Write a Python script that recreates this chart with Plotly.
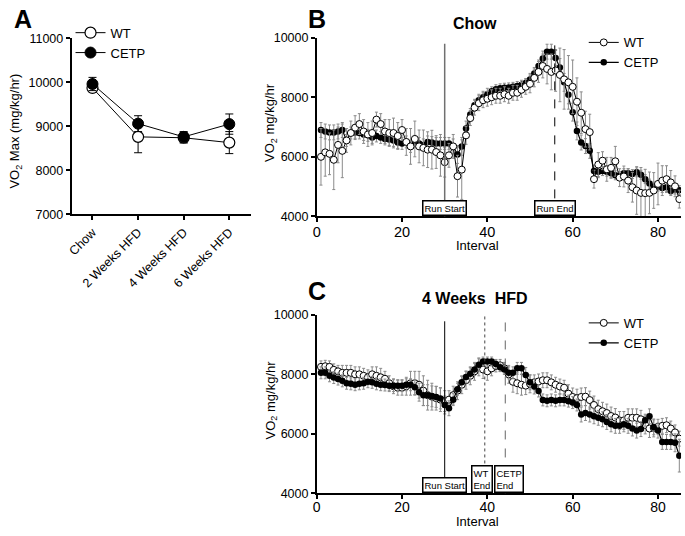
import plotly.graph_objects as go

# ---------------- Panel A data ----------------
a_categories = ["Chow", "2 Weeks HFD", "4 Weeks HFD", "6 Weeks HFD"]
a_wt = [9870, 8760, 8740, 8630]
a_wt_err = [60, 360, 120, 250]
a_cetp = [9960, 9060, 8760, 9050]
a_cetp_err = [150, 180, 120, 230]

# ---------------- Panel B (Chow) data ----------------
interval = list(range(1, 86))
b_wt = [6000, 6150, 6100, 5900, 6400, 6200, 6550, 6800, 6980, 7100,
        6850, 6750, 6800, 7250, 7100, 6850, 6800, 6800, 6700, 6900,
        6500, 6350, 6600, 6350, 6300, 6240, 6240, 6160, 6050, 5820,
        6050, 6350, 5350, 5570, 6720, 7300, 7650, 7800, 7900, 7950,
        8000, 8050, 8050, 8100, 8050, 8150, 8150, 8250, 8350, 8450,
        8650, 8850, 9050, 8950, 8850, 8900, 8750, 8600, 8500, 8350,
        7850, 7480, 6930, 6830, 5250, 5740, 5870, 5580, 5630, 5850,
        5300, 5340, 5200, 4980, 4870, 4790, 4780, 4790, 4870, 5090,
        5200, 5250, 5140, 5010, 4580]
b_wt_err = [950, 800, 700, 1000, 600, 900, 400, 400, 400, 350,
            400, 400, 400, 250, 350, 400, 450, 500, 450, 350,
            450, 600, 600, 550, 600, 600, 650, 550, 700, 500,
            400, 400, 700, 1000, 300, 250, 250, 250, 250, 250,
            250, 250, 250, 250, 250, 250, 250, 250, 250, 300,
            300, 350, 400, 500, 600, 700, 900, 1000, 900, 900,
            800, 700, 600, 600, 300, 400, 300, 400, 350, 500,
            300, 350, 400, 500, 800, 850, 800, 700, 600, 700,
            500, 450, 400, 350, 300]
b_cetp = [6900, 6850, 6820, 6820, 6850, 6900, 6550, 6800, 6820, 6800,
          6750, 6720, 6650, 6700, 6650, 6600, 6580, 6550, 6480, 6450,
          6500, 6350, 6520, 6450, 6400, 6500, 6480, 6450, 6450, 6450,
          6450, 6350, 6080, 6350, 6950, 7420, 7730, 7900, 8000, 8100,
          8200, 8270, 8300, 8320, 8330, 8350, 8380, 8420, 8480, 8600,
          8800, 9050, 9300, 9530, 9530, 9320, 9000, 8500, 8080, 7500,
          6870, 6480, 6360, 6200, 5520, 5500, 5520, 5500, 5450, 5380,
          5350, 5450, 5450, 5420, 5480, 5400, 5250, 5100, 5000, 5000,
          4950, 4980, 4850, 4900, 4880]
b_cetp_err = [250, 250, 250, 250, 250, 250, 200, 200, 200, 200,
              200, 200, 200, 200, 200, 200, 200, 200, 200, 200,
              200, 200, 200, 200, 200, 200, 200, 200, 200, 200,
              200, 250, 300, 300, 250, 200, 200, 200, 200, 200,
              150, 150, 150, 150, 150, 150, 150, 150, 150, 200,
              200, 200, 250, 250, 250, 250, 300, 300, 300, 300,
              300, 250, 250, 250, 200, 200, 150, 150, 150, 150,
              150, 150, 150, 150, 150, 150, 150, 150, 150, 150,
              150, 150, 150, 150, 150]

# ---------------- Panel C (4 Weeks HFD) data ----------------
c_wt = [8250, 8270, 8250, 8150, 8100, 8050, 8050, 8050, 8000, 8000,
        7950, 7900, 8000, 7950, 7900, 7850, 7700, 7600, 7550, 7550,
        7600, 7700, 7700, 7650, 7450, 7300, 7250, 7200, 7150, 7100,
        7150, 7300, 7450, 7650, 7800, 7950, 8100, 8250, 8160, 8100,
        8200, 8280, 8300, 8200, 8000, 7750, 7700, 7650, 7620, 7680,
        7730, 7760, 7800, 7800, 7730, 7650, 7590, 7550, 7350, 7240,
        7200, 7240, 7250, 7135, 6970, 6830, 6760, 6700, 6600, 6550,
        6450, 6450, 6540, 6540, 6540, 6490, 6300, 6180, 6200, 6240,
        6270, 6290, 6180, 6050, 5840]
c_wt_err = [200, 200, 200, 200, 200, 250, 250, 250, 250, 250,
            250, 250, 250, 300, 300, 250, 250, 250, 250, 250,
            300, 400, 400, 450, 500, 500, 450, 400, 400, 350,
            300, 300, 300, 300, 300, 300, 300, 300, 300, 300,
            250, 200, 200, 200, 300, 350, 350, 350, 300, 300,
            250, 250, 250, 250, 250, 250, 250, 250, 300, 300,
            300, 300, 300, 300, 300, 300, 300, 300, 300, 300,
            300, 300, 300, 300, 300, 300, 300, 300, 300, 250,
            250, 250, 250, 250, 250]
c_cetp = [8050, 8050, 7950, 7890, 7840, 7780, 7700, 7680, 7650, 7680,
          7700, 7750, 7730, 7680, 7650, 7640, 7620, 7620, 7620, 7620,
          7650, 7650, 7570, 7400, 7300, 7300, 7260, 7240, 7190, 6970,
          6860, 7150, 7500, 7730, 7910, 8020, 8160, 8320, 8430, 8430,
          8430, 8350, 8240, 8160, 8050, 8050, 8200, 8200, 7980, 7730,
          7590, 7440, 7140, 7110, 7140, 7110, 7140, 7140, 7100, 7050,
          6970, 6650, 6700, 6650, 6590, 6540, 6490, 6400, 6320, 6270,
          6270, 6320, 6270, 6180, 6110, 6160, 6460, 6590, 6220, 6110,
          5730, 5730, 5730, 5700, 5270]
c_cetp_err = [200, 200, 200, 200, 200, 200, 200, 200, 200, 200,
              200, 200, 200, 200, 200, 200, 200, 200, 200, 200,
              200, 200, 250, 300, 350, 350, 350, 350, 350, 300,
              250, 200, 200, 200, 200, 200, 200, 200, 150, 150,
              150, 150, 150, 150, 200, 200, 200, 200, 250, 250,
              250, 200, 200, 200, 200, 200, 200, 200, 200, 200,
              200, 250, 250, 250, 250, 250, 250, 250, 250, 250,
              250, 250, 250, 250, 250, 250, 200, 250, 250, 250,
              250, 250, 250, 300, 550]

FONT = "Arial, Liberation Sans, sans-serif"
W, H = 685, 536


def px_x(p):
    return p / W


def px_y(p):
    return 1 - p / H


fig = go.Figure()

ERR_GRAY = "#8a8a8a"

# ---- Panel A ----
fig.add_trace(go.Scatter(
    x=list(range(len(a_categories))), y=a_wt, name="WT", mode="lines+markers",
    line=dict(color="black", width=1),
    marker=dict(symbol="circle", size=11, color="white", line=dict(color="black", width=1.2)),
    error_y=dict(type="data", array=a_wt_err, color="black", thickness=1, width=4),
    xaxis="x", yaxis="y", legend="legend"))
fig.add_trace(go.Scatter(
    x=list(range(len(a_categories))), y=a_cetp, name="CETP", mode="lines+markers",
    line=dict(color="black", width=1),
    marker=dict(symbol="circle", size=11, color="black", line=dict(color="black", width=1)),
    error_y=dict(type="data", array=a_cetp_err, color="black", thickness=1, width=4),
    xaxis="x", yaxis="y", legend="legend"))

# ---- Panel B ----
fig.add_trace(go.Scatter(
    x=interval, y=b_cetp, name="CETP", mode="lines+markers",
    line=dict(color="black", width=1.2),
    marker=dict(symbol="circle", size=6.5, color="black"),
    error_y=dict(type="data", array=b_cetp_err, color=ERR_GRAY, thickness=1, width=1.5),
    xaxis="x2", yaxis="y2", legend="legend2", legendrank=2))
fig.add_trace(go.Scatter(
    x=interval, y=b_wt, name="WT", mode="lines+markers",
    line=dict(color="black", width=1),
    marker=dict(symbol="circle", size=7, color="white", line=dict(color="black", width=1)),
    error_y=dict(type="data", array=b_wt_err, color=ERR_GRAY, thickness=1, width=1.5),
    xaxis="x2", yaxis="y2", legend="legend2", legendrank=1))

# ---- Panel C ----
fig.add_trace(go.Scatter(
    x=interval, y=c_wt, name="WT", mode="lines+markers",
    line=dict(color="black", width=1),
    marker=dict(symbol="circle", size=7, color="white", line=dict(color="black", width=1)),
    error_y=dict(type="data", array=c_wt_err, color=ERR_GRAY, thickness=1, width=1.5),
    xaxis="x3", yaxis="y3", legend="legend3", legendrank=1))
fig.add_trace(go.Scatter(
    x=interval, y=c_cetp, name="CETP", mode="lines+markers",
    line=dict(color="black", width=1.2),
    marker=dict(symbol="circle", size=6.5, color="black"),
    error_y=dict(type="data", array=c_cetp_err, color=ERR_GRAY, thickness=1, width=1.5),
    xaxis="x3", yaxis="y3", legend="legend3", legendrank=2))

axis_common = dict(showline=True, linecolor="black", linewidth=1.5, ticks="outside",
                   ticklen=4, tickwidth=1.5, tickcolor="black", showgrid=False,
                   zeroline=False, mirror=False)

b_dom_x = [px_x(314), px_x(681)]

fig.update_layout(
    width=W, height=H, margin=dict(l=0, r=0, t=0, b=0),
    paper_bgcolor="white", plot_bgcolor="white",
    font=dict(family=FONT, color="black"),
    xaxis=dict(domain=[px_x(67), px_x(248)], range=[-0.46, 3.48],
               tickvals=list(range(len(a_categories))), ticktext=a_categories,
               tickangle=-45, tickfont=dict(size=12.5), anchor="y", **axis_common),
    yaxis=dict(domain=[px_y(213), px_y(32)], range=[7000, 11000], dtick=1000,
               tickformat="d", tickfont=dict(size=12.5), anchor="x", **axis_common),
    xaxis2=dict(domain=b_dom_x, range=[0, 85.4], dtick=20, tickfont=dict(size=14.5),
                ticklabelstandoff=-3, anchor="y2", **axis_common),
    yaxis2=dict(domain=[px_y(215), px_y(31.5)], range=[4000, 10000], dtick=2000,
                tickformat="d", tickfont=dict(size=12.5), anchor="x2", **axis_common),
    xaxis3=dict(domain=b_dom_x, range=[0, 85.4], dtick=20, tickfont=dict(size=14),
                ticklabelstandoff=-4, anchor="y3", **axis_common),
    yaxis3=dict(domain=[px_y(499.5), px_y(316)], range=[4000, 10000], dtick=2000,
                tickformat="d", tickfont=dict(size=12.5), anchor="x3", **axis_common),
    legend=dict(x=px_x(66), y=px_y(11), xanchor="left", yanchor="top",
                bgcolor="rgba(0,0,0,0)", font=dict(size=13), itemwidth=30,
                tracegroupgap=0, traceorder="normal"),
    legend2=dict(x=px_x(583), y=px_y(21), xanchor="left", yanchor="top",
                 bgcolor="rgba(0,0,0,0)", font=dict(size=13), itemwidth=30,
                 traceorder="normal"),
    legend3=dict(x=px_x(583), y=px_y(309), xanchor="left", yanchor="top",
                 bgcolor="rgba(0,0,0,0)", font=dict(size=13), itemwidth=30,
                 traceorder="normal"),
)

# Vertical markers
shapes = [
    dict(type="line", xref="x2", yref="y2", x0=30, x1=30, y0=4000, y1=9800,
         line=dict(color="#707070", width=1.5)),
    dict(type="line", xref="x2", yref="y2", x0=55.8, x1=55.8, y0=4000, y1=10000,
         line=dict(color="black", width=1, dash="dash")),
    dict(type="line", xref="x3", yref="y3", x0=30, x1=30, y0=4000, y1=9780,
         line=dict(color="black", width=1)),
    dict(type="line", xref="x3", yref="y3", x0=39.4, x1=39.4, y0=4000, y1=10000,
         line=dict(color="#444444", width=1, dash="dot")),
    dict(type="line", xref="x3", yref="y3", x0=44.2, x1=44.2, y0=4000, y1=10000,
         line=dict(color="#666666", width=1, dash="dash")),
]
fig.update_layout(shapes=shapes)

box = dict(showarrow=False, bordercolor="black", borderwidth=1.5, bgcolor="white",
           font=dict(size=9.5, family=FONT), borderpad=1, yanchor="bottom", xanchor="center")
annotations = [
    dict(text="Run Start", xref="x2", yref="y2", x=30, y=4000, **box),
    dict(text="Run End", xref="x2", yref="y2", x=55.8, y=4000, **box),
    dict(text="Run Start", xref="x3", yref="y3", x=30, y=4000, **box),
    dict(text="WT<br>End", xref="x3", yref="y3", x=38.8, y=4000, align="left", **box),
    dict(text="CETP<br>End", xref="x3", yref="y3", x=45.0, y=4000, align="left", **box),
]
plain = dict(showarrow=False, xref="paper", yref="paper", xanchor="center", yanchor="middle")
annotations += [
    # Panel letters
    dict(text="<b>A</b>", x=px_x(18), y=px_y(12), font=dict(size=25, family=FONT), **plain),
    dict(text="<b>B</b>", x=px_x(314), y=px_y(12), font=dict(size=25, family=FONT), **plain),
    dict(text="<b>C</b>", x=px_x(314), y=px_y(292), font=dict(size=25, family=FONT), **plain),
    # Panel titles
    dict(text="<b>Chow</b>", x=px_x(473), y=px_y(17), font=dict(size=16, family=FONT), **plain),
    dict(text="<b>4 Weeks  HFD</b>", x=px_x(473), y=px_y(299), font=dict(size=16, family=FONT), **plain),
    # Axis titles
    dict(text="VO<sub>2</sub> Max (mg/kg/hr)", x=px_x(11), y=px_y(127), textangle=-90,
         font=dict(size=13, family=FONT), **plain),
    dict(text="VO<sub>2</sub> mg/kg/hr", x=px_x(268), y=px_y(119), textangle=-90,
         font=dict(size=13, family=FONT), **plain),
    dict(text="VO<sub>2</sub> mg/kg/hr", x=px_x(268), y=px_y(404), textangle=-90,
         font=dict(size=13, family=FONT), **plain),
    dict(text="Interval", x=px_x(476), y=px_y(245), font=dict(size=13, family=FONT), **plain),
    dict(text="Interval", x=px_x(476), y=px_y(528.5), font=dict(size=13, family=FONT), **plain),
]
fig.update_layout(annotations=annotations)

fig.write_html("out.html", config={"displayModeBar": False},
               post_script="document.body.style.margin='0';document.body.style.padding='0';")
